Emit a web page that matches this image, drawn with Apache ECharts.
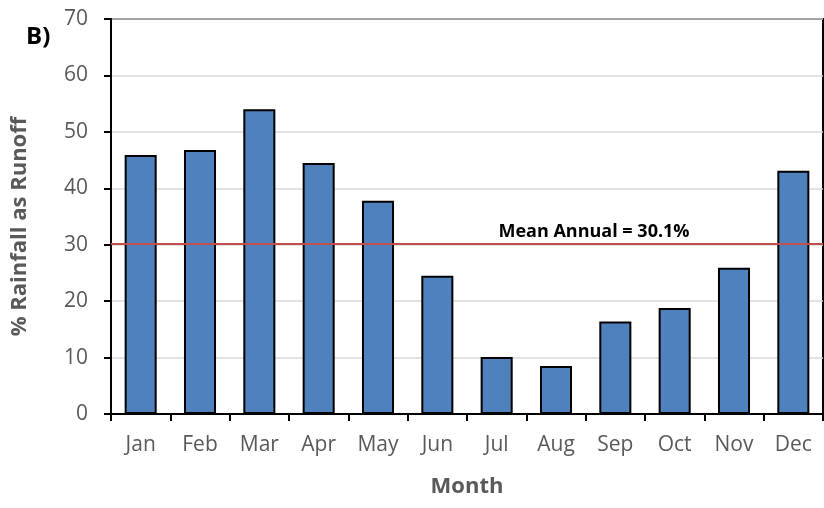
<!DOCTYPE html>
<html>
<head>
<meta charset="utf-8">
<script src="https://cdn.jsdelivr.net/npm/echarts@6/dist/echarts.min.js"></script>
<style>
  html, body { margin: 0; padding: 0; background: #fff; }
  #chart { width: 824px; height: 508px; }
</style>
</head>
<body>
<div id="chart"></div>
<script>
// Monthly share of rainfall that becomes runoff (%)
const months = ['Jan', 'Feb', 'Mar', 'Apr', 'May', 'Jun', 'Jul', 'Aug', 'Sep', 'Oct', 'Nov', 'Dec'];
const runoffPct = [45.9, 46.8, 54.0, 44.5, 37.8, 24.5, 10.1, 8.5, 16.4, 18.8, 25.9, 43.1];
const meanAnnual = 30.1;
const yTicks = [0, 10, 20, 30, 40, 50, 60, 70];

const FONT = '"Open Sans", "Noto Sans", sans-serif';
const chart = echarts.init(document.getElementById('chart'), null, { renderer: 'canvas' });

chart.setOption({
  animation: false,
  backgroundColor: '#ffffff',
  textStyle: { fontFamily: FONT },
  grid: {
    left: 111, right: 1, top: 19, bottom: 94,
    show: true, borderColor: '#000000', borderWidth: 2, backgroundColor: 'transparent'
  },
  title: {
    text: 'B)', left: 21, top: 20,
    textStyle: { fontFamily: FONT, fontSize: 24, fontWeight: 'bold', color: '#000000' }
  },
  xAxis: {
    type: 'category',
    data: months,
    boundaryGap: true,
    name: 'Month',
    nameLocation: 'middle',
    nameGap: 62,
    nameTextStyle: { fontFamily: FONT, fontSize: 22, fontWeight: 'bold', color: '#595959' },
    axisLine: { lineStyle: { color: '#000000', width: 2 } },
    axisTick: { show: true, length: 7, inside: false, alignWithLabel: false, lineStyle: { color: '#000000', width: 2 } },
    axisLabel: { fontFamily: FONT, fontSize: 21, color: '#595959', margin: 21 },
    splitLine: { show: false }
  },
  yAxis: {
    type: 'value',
    min: yTicks[0],
    max: yTicks[yTicks.length - 1],
    interval: 10,
    name: '% Rainfall as Runoff',
    nameLocation: 'middle',
    nameGap: 80,
    nameRotate: 90,
    nameTextStyle: {
      fontFamily: FONT, fontSize: 22, fontWeight: 'bold', color: '#595959',
      padding: [0, 20, 0, 0]
    },
    axisLine: { show: true, lineStyle: { color: '#000000', width: 2 } },
    axisTick: { show: true, length: 7, inside: false, lineStyle: { color: '#000000', width: 2 } },
    axisLabel: { fontFamily: FONT, fontSize: 21, color: '#595959', margin: 23 },
    splitLine: { show: true, lineStyle: { color: '#d9d9d9', width: 1.5 } }
  },
  series: [{
    type: 'bar',
    data: runoffPct,
    barWidth: '54%',
    itemStyle: { color: '#4f81bd', borderColor: '#000000', borderWidth: 2 },
    markLine: {
      silent: true,
      symbol: ['none', 'none'],
      lineStyle: { color: '#c0504d', width: 2, type: 'solid' },
      label: {
        show: true,
        position: 'insideMiddleTop',
        offset: [127, 2],
        formatter: 'Mean Annual = ' + meanAnnual.toFixed(1) + '%',
        fontFamily: FONT, fontSize: 18, fontWeight: 'bold', color: '#000000'
      },
      data: [{ yAxis: meanAnnual }]
    }
  }]
});
</script>
</body>
</html>
